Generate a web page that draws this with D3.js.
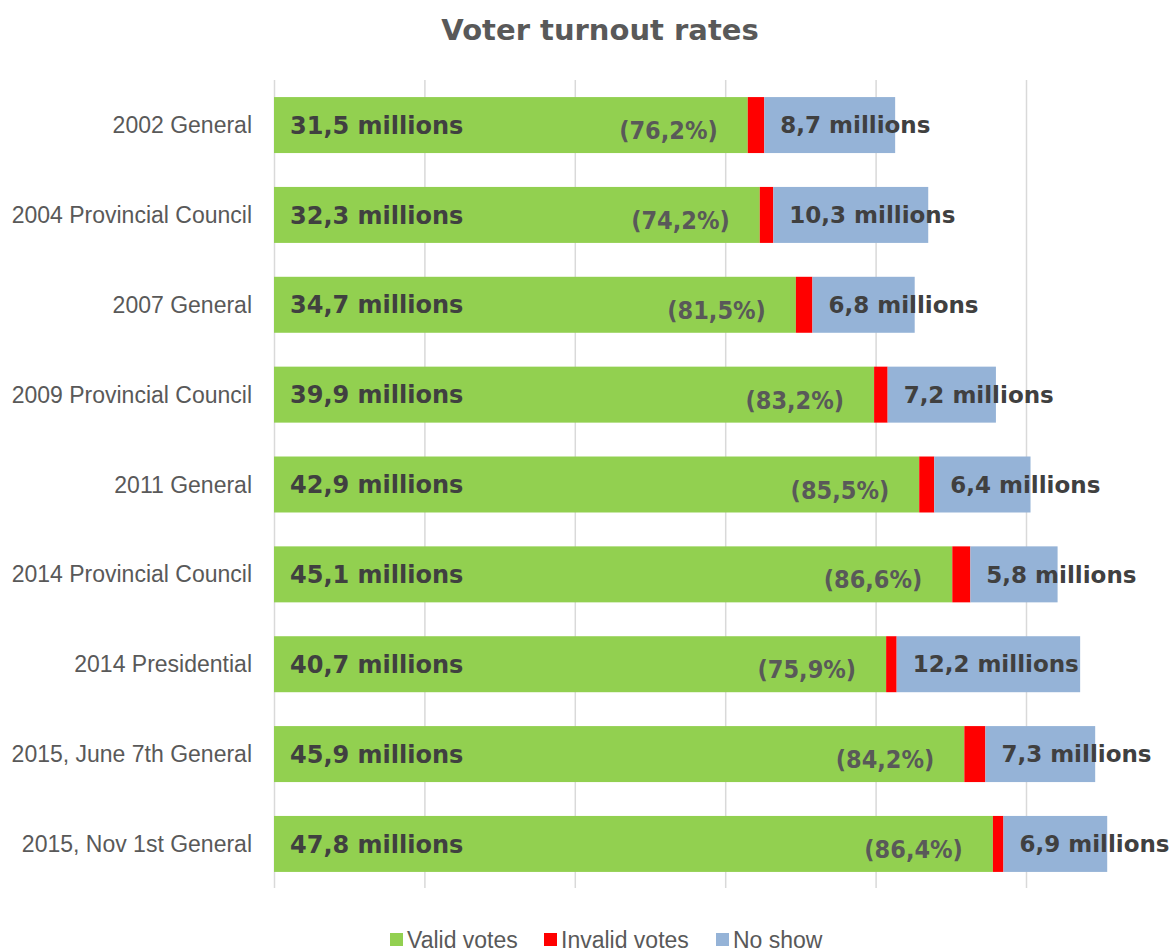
<!DOCTYPE html>
<html>
<head>
<meta charset="utf-8">
<script src="https://cdn.jsdelivr.net/npm/d3@7"></script>
<style>
  body { margin: 0; background: #fff; }
  svg { display: block; }
</style>
</head>
<body>
<svg id="chart" width="1173" height="952"></svg>
<script>
// Elections and their vote breakdown, in millions
const elections = [
  "2002 General",
  "2004 Provincial Council",
  "2007 General",
  "2009 Provincial Council",
  "2011 General",
  "2014 Provincial Council",
  "2014 Presidential",
  "2015, June 7th General",
  "2015, Nov 1st General"
];
const validVotes   = [31.5, 32.3, 34.7, 39.9, 42.9, 45.1, 40.7, 45.9, 47.8];
const invalidVotes = [1.1, 0.9, 1.1, 0.9, 1.0, 1.2, 0.7, 1.4, 0.7];
const noShow       = [8.7, 10.3, 6.8, 7.2, 6.4, 5.8, 12.2, 7.3, 6.9];
const turnout      = ["76,2%", "74,2%", "81,5%", "83,2%", "85,5%", "86,6%", "75,9%", "84,2%", "86,4%"];
const xTicks       = [0, 10, 20, 30, 40, 50];

const seriesKeys   = ["valid", "invalid", "noshow"];
const seriesNames  = ["Valid votes", "Invalid votes", "No show"];
const seriesColors = ["#92d050", "#ff0000", "#95b3d7"];

const rows = elections.map((name, i) => ({
  name, valid: validVotes[i], invalid: invalidVotes[i], noshow: noShow[i], pct: turnout[i]
}));

const svg = d3.select("#chart");
const margin = { left: 274, top: 80, plotBottom: 889 };

const x = d3.scaleLinear().domain([0, 10]).range([0, 150.4]);
const y = d3.scaleBand().domain(elections).range([margin.top, margin.plotBottom]).paddingInner(0.377).paddingOuter(0.19);

const labelFont = "'Franklin Gothic Book', 'Liberation Sans', Arial, sans-serif";
const heavyFont = "'Franklin Gothic Heavy', 'DejaVu Sans', sans-serif";
const condFont  = "'Franklin Gothic Demi Cond', 'DejaVu Sans Condensed', 'DejaVu Sans', sans-serif";

// Title
svg.append("text")
  .attr("x", 600).attr("y", 40)
  .attr("text-anchor", "middle")
  .style("font-family", heavyFont).style("font-weight", "bold")
  .style("font-size", "29px").attr("fill", "#595959")
  .text("Voter turnout rates");

// Vertical gridlines
const g = svg.append("g").attr("transform", `translate(${margin.left},0)`);
g.append("g")
  .attr("transform", `translate(0,${margin.plotBottom - 1})`)
  .call(d3.axisBottom(x).tickValues(xTicks).tickSize(-(margin.plotBottom - 1 - margin.top)).tickFormat(""))
  .call(a => a.select(".domain").remove())
  .call(a => a.selectAll(".tick line").attr("stroke", "#d9d9d9").attr("stroke-width", 1.5));

// Stacked bars
const stack = d3.stack().keys(seriesKeys)(rows);
g.selectAll("g.series").data(stack).join("g")
  .attr("class", "series")
  .attr("fill", (d, i) => seriesColors[i])
  .selectAll("rect").data(d => d).join("rect")
  .attr("x", d => x(d[0]))
  .attr("width", d => x(d[1]) - x(d[0]))
  .attr("y", d => y(d.data.name))
  .attr("height", y.bandwidth());

// Category labels
svg.append("g").selectAll("text").data(rows).join("text")
  .attr("x", 252)
  .attr("y", d => y(d.name) + y.bandwidth() / 2)
  .attr("dy", "0.35em")
  .attr("text-anchor", "end")
  .style("font-family", labelFont).style("font-size", "23px")
  .attr("fill", "#595959")
  .text(d => d.name);

const fmt = v => d3.format(".1f")(v).replace(".", ",") + " millions";

// Valid-vote labels
g.append("g").selectAll("text").data(rows).join("text")
  .attr("x", 16)
  .attr("y", d => y(d.name) + y.bandwidth() / 2)
  .attr("dy", "0.36em")
  .style("font-family", heavyFont).style("font-weight", "bold").style("font-size", "24px")
  .attr("fill", "#404040")
  .text(d => fmt(d.valid));

// Turnout percentages, right-aligned inside the valid segment
g.append("g").selectAll("text").data(rows).join("text")
  .attr("x", d => x(d.valid) - 30)
  .attr("y", d => y(d.name) + y.bandwidth() / 2 + 5)
  .attr("dy", "0.36em")
  .attr("text-anchor", "end")
  .style("font-family", condFont).style("font-weight", "bold").style("font-size", "25px")
  .attr("fill", "#595959")
  .text(d => `(${d.pct})`);

// No-show labels
g.append("g").selectAll("text").data(rows).join("text")
  .attr("x", d => x(d.valid + d.invalid) + 16)
  .attr("y", d => y(d.name) + y.bandwidth() / 2)
  .attr("dy", "0.36em")
  .style("font-family", heavyFont).style("font-weight", "bold").style("font-size", "23px")
  .attr("fill", "#404040")
  .text(d => fmt(d.noshow));

// Legend
const legend = svg.append("g").attr("transform", "translate(390,940)");
const legendX = [0, 154, 326];
seriesNames.forEach((name, i) => {
  const item = legend.append("g").attr("transform", `translate(${legendX[i]},0)`);
  item.append("rect").attr("x", 0).attr("y", -7).attr("width", 13).attr("height", 13).attr("fill", seriesColors[i]);
  item.append("text").attr("x", 17).attr("y", 0).attr("dy", "0.35em")
    .style("font-family", labelFont).style("font-size", "23px").attr("fill", "#595959")
    .text(name);
});
</script>
</body>
</html>
